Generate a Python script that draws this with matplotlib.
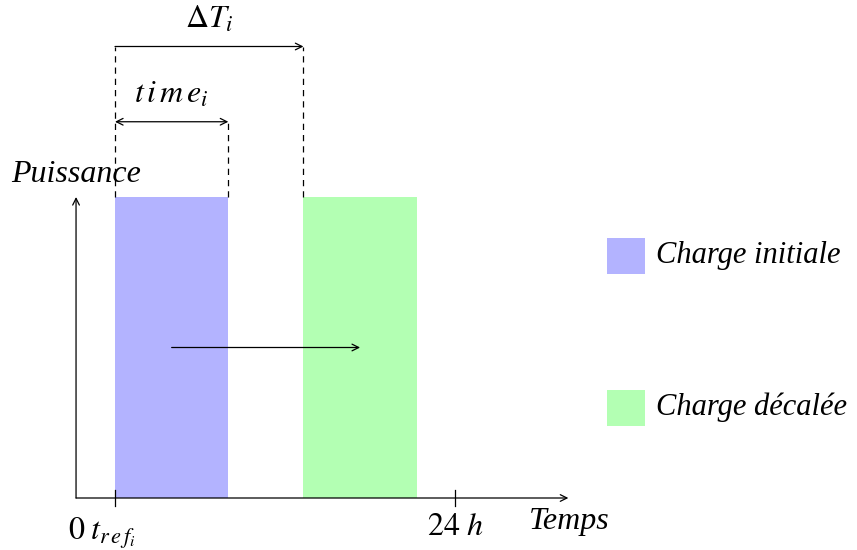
import matplotlib
matplotlib.use("Agg")
import matplotlib.pyplot as plt
from matplotlib.patches import Rectangle

plt.rcParams['font.family'] = ['Liberation Serif', 'DejaVu Serif']
plt.rcParams['mathtext.fontset'] = 'stix'

# ---- data ----
load_labels = ["Charge initiale", "Charge décalée"]
load_colors = ["#b3b3ff", "#b3ffb3"]
t_ref = 0.0          # start of initial load (h)
duration = 8.0       # time_i (h)
shift = 13.3         # Delta T_i (h)
power = 10.0         # load power (arb.)
day_end = 24.0
x_tick_labels = [r"$0\;t_{r\,e\,f_i}$", r"$24\ h$"]

# ---- figure ----
W, H = 857, 550
fig = plt.figure(figsize=(W / 100, H / 100), dpi=100)
ax = fig.add_axes([0, 0, 1, 1])
px_x = 14.167   # pixels per hour
px_y = 30.1     # pixels per unit power
x0_px, y0_px = 115, 498
ax.set_xlim(-x0_px / px_x, (W - x0_px) / px_x)
ax.set_ylim(-(H - y0_px) / px_y, y0_px / px_y)
ax.axis('off')

FS = 23

starts = [t_ref, t_ref + shift]
for s, c in zip(starts, load_colors):
    ax.add_patch(Rectangle((s, 0), duration, power, facecolor=c, edgecolor='none', zorder=1))

lw = 0.9
arrow_kw = dict(arrowstyle='->', lw=lw, color='black', shrinkA=0, shrinkB=0, mutation_scale=12)
# axes
x_axis_start = -2.75
ax.annotate('', xy=(32.0, 0), xytext=(x_axis_start, 0), arrowprops=arrow_kw, zorder=3)
ax.annotate('', xy=(x_axis_start, power), xytext=(x_axis_start, 0), arrowprops=arrow_kw, zorder=3)
# ticks
for tx in [t_ref, day_end]:
    ax.plot([tx, tx], [-0.25, 0.25], color='black', lw=lw, zorder=3)

# dashed guides
dT_y = 15.0
time_y = 12.5
dash = dict(color='black', lw=lw, linestyles=(0, (5, 4)))
ax.vlines([t_ref, t_ref + shift], power, dT_y, **dash)
ax.vlines([t_ref + duration], power, time_y, **dash)

# dimension arrows
ax.annotate('', xy=(t_ref + shift, dT_y), xytext=(t_ref, dT_y), arrowprops=arrow_kw)
ax.annotate('', xy=(t_ref + duration, time_y), xytext=(t_ref, time_y),
            arrowprops=dict(arrow_kw, arrowstyle='<->'))
ax.text(t_ref + shift / 2, dT_y + 0.4, r"$\Delta T_i$", ha='center', va='bottom', fontsize=FS)
ax.text(t_ref + duration / 2, time_y + 0.4, r"$t\,i\,m\,e_i$", ha='center', va='bottom', fontsize=FS)

# shift arrow
ax.annotate('', xy=(t_ref + shift + duration / 2, power / 2), xytext=(t_ref + duration / 2, power / 2),
            arrowprops=arrow_kw)

# axis labels
ax.text(x_axis_start, power + 0.25, "Puissance", style='italic', ha='center', va='bottom', fontsize=FS)
ax.text(32.1, -0.3, "Temps", style='italic', ha='center', va='top', fontsize=FS)
ax.text(-0.9, -0.6, x_tick_labels[0], ha='center', va='top', fontsize=FS)
ax.text(day_end, -0.5, x_tick_labels[1], ha='center', va='top', fontsize=FS)

# legend
leg_x = 34.7
leg_ys = [8.05, 3.0]
for lab, c, ly in zip(load_labels, load_colors, leg_ys):
    ax.add_patch(Rectangle((leg_x, ly - 0.6), 2.7, 1.2, facecolor=c, edgecolor='none'))
    ax.text(leg_x + 3.5, ly, lab, style='italic', ha='left', va='center', fontsize=22)

fig.savefig("out.png", dpi=100)
